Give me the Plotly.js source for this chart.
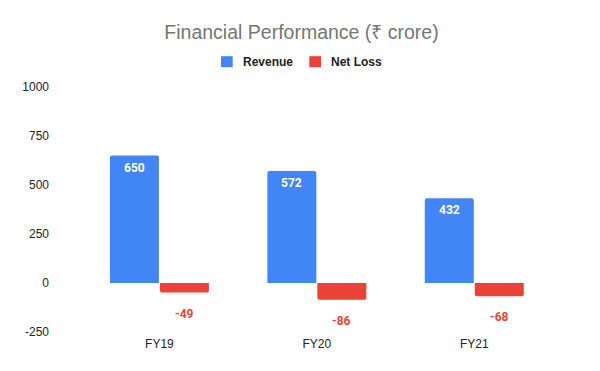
<!DOCTYPE html>
<html>
<head>
<meta charset="utf-8">
<script src="https://cdn.plot.ly/plotly-3.0.1.min.js"></script>
<style>html,body{margin:0;padding:0;background:#fff;}#chart{width:600px;height:371px;}</style>
</head>
<body>
<div id="chart"></div>
<script>
const categories = ["FY19", "FY20", "FY21"];
const seriesNames = ["Revenue", "Net Loss"];
const revenue = [650, 572, 432];
const netLoss = [-49, -86, -68];
const yTicks = [-250, 0, 250, 500, 750, 1000];

const BLUE = "#4285F4", RED = "#EA4335";
const COLORS = [BLUE, RED];
const LABEL_FONT = "Roboto, Arial, sans-serif";
const AXIS_FONT = "Arial, 'Liberation Sans', sans-serif";

const W = 600, H = 371;
const M = {l: 50, r: 47, t: 87, b: 39};
const PW = W - M.l - M.r, PH = H - M.t - M.b;
const px2x = px => (px - M.l) / PW;
const py2y = py => 1 - (py - M.t) / PH;

const traces = [
  {
    type: "bar", name: seriesNames[0], x: categories, y: revenue,
    marker: {color: COLORS[0], cornerradius: 2},
    textposition: "none", hoverinfo: "none"
  },
  {
    type: "bar", name: seriesNames[1], x: categories, y: netLoss,
    marker: {color: COLORS[1], cornerradius: 2},
    textposition: "none", hoverinfo: "none"
  }
];

const revLabels = categories.map((c, i) => ({
  x: c, y: revenue[i], xref: "x", yref: "y",
  text: String(revenue[i]), showarrow: false,
  xanchor: "center", yanchor: "top", xshift: -25, yshift: -3,
  font: {family: LABEL_FONT, size: 12, color: "#ffffff", weight: "bold"}
}));
const lossLabels = categories.map((c, i) => ({
  x: c, y: netLoss[i], xref: "x", yref: "y",
  text: String(netLoss[i]), showarrow: false,
  xanchor: "center", yanchor: "top", xshift: 25, yshift: -12,
  font: {family: LABEL_FONT, size: 12, color: RED, weight: "bold"}
}));

// legend drawn manually (symbol left edge px, text left px)
const legendSymX = [221, 309.3];
const legendTextX = [240.7, 328.7];
const legendY = 61.7;
const legendShapes = seriesNames.map((n, i) => ({
  type: "rect", xref: "paper", yref: "paper",
  x0: px2x(legendSymX[i]), x1: px2x(legendSymX[i] + 11.7),
  y0: py2y(legendY + 5.5), y1: py2y(legendY - 5.5),
  fillcolor: COLORS[i], line: {width: 0}
}));
const legendTexts = seriesNames.map((n, i) => ({
  xref: "paper", yref: "paper", x: px2x(legendTextX[i]), y: py2y(legendY),
  xanchor: "left", yanchor: "middle", showarrow: false, text: n,
  font: {family: AXIS_FONT, size: 12, color: "#222222", weight: "bold"}
}));

const layout = {
  width: W, height: H,
  margin: M,
  paper_bgcolor: "#ffffff", plot_bgcolor: "#ffffff",
  title: {
    text: "Financial Performance (₹ crore)",
    font: {family: AXIS_FONT, size: 19.5, color: "#757575"},
    x: 0.5, xanchor: "center", y: 1 - 31.7/H, yanchor: "middle", xref: "paper"
  },
  barmode: "group", bargap: 0.365, bargroupgap: 0.02,
  showlegend: false,
  xaxis: {
    type: "category", range: [-0.695, 2.5],
    showgrid: false, zeroline: false, showline: false, ticks: "",
    ticklabelstandoff: 3,
    tickfont: {family: AXIS_FONT, size: 12, color: "#222222"}
  },
  yaxis: {
    range: [-250, 1000], tickvals: yTicks, ticktext: yTicks.map(String),
    showgrid: false, zeroline: false, showline: false, ticks: "",
    tickfont: {family: AXIS_FONT, size: 12, color: "#222222"}
  },
  shapes: legendShapes,
  annotations: revLabels.concat(lossLabels, legendTexts)
};

Plotly.newPlot("chart", traces, layout, {staticPlot: true, displayModeBar: false});
</script>
</body>
</html>
